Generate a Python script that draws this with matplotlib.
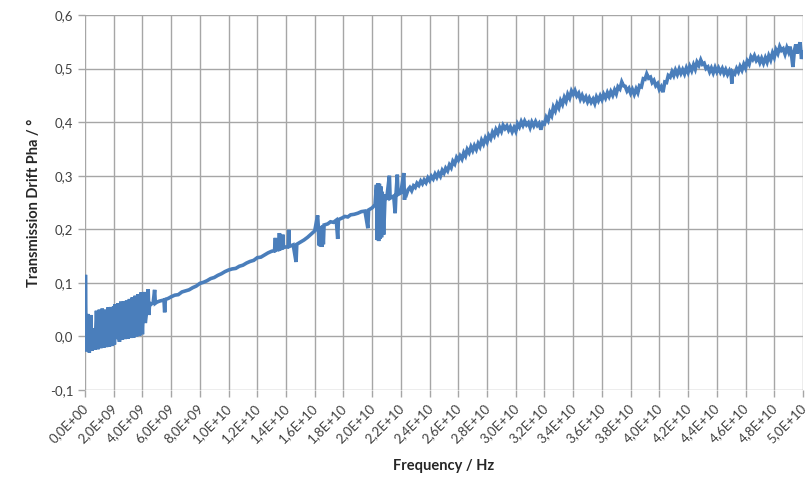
import matplotlib
matplotlib.use("Agg")
import matplotlib.pyplot as plt
import matplotlib.transforms as mtransforms
from matplotlib.ticker import FixedLocator, FuncFormatter
import numpy as np

# ---- data (frequency in GHz, phase drift in degrees) ----
band_freq = [0.00, 0.03, 0.06, 0.10, 0.2, 0.3, 0.4, 0.5, 0.6, 0.7, 0.8, 0.9, 1.0, 1.1, 1.2,
             1.3, 1.4, 1.5, 1.6, 1.7, 1.8, 1.9, 2.0, 2.05, 2.1, 2.2, 2.3, 2.4, 2.5, 2.6, 2.7,
             2.8, 2.9, 3.0, 3.1, 3.2, 3.3, 3.4, 3.5, 3.6, 3.7, 3.8, 3.9, 4.0, 4.1, 4.2, 4.3,
             4.4, 4.45, 4.5, 4.6, 4.75, 4.85, 4.9, 5.0, 5.2, 5.5, 5.55, 5.6, 5.8]
band_phase = [0.005, 0.115, 0.040, -0.028, 0.042, -0.030, 0.040, -0.027, 0.015, -0.025, 0.048,
              -0.024, 0.050, -0.022, 0.052, -0.021, 0.050, -0.020, 0.054, -0.019, 0.055, -0.018,
              0.056, -0.015, 0.060, -0.005, 0.062, -0.010, 0.065, -0.006, 0.066, -0.005, 0.067,
              -0.004, 0.070, -0.003, 0.073, -0.002, 0.076, 0.000, 0.079, 0.001, 0.082, 0.004,
              0.083, 0.025, 0.048, 0.088, 0.040, 0.062, 0.060, 0.063, 0.087, 0.062, 0.064,
              0.066, 0.068, 0.045, 0.069, 0.071]

mid_freq = [6.0, 6.25, 6.5, 6.75, 7.0, 7.25, 7.5, 7.75, 8.0, 8.25, 8.5, 8.75, 9.0, 9.25, 9.5,
            9.75, 10.0, 10.25, 10.5, 10.75, 11.0, 11.25, 11.5, 11.75, 12.0, 12.25, 12.5, 12.75,
            13.0, 13.2, 13.26, 13.3, 13.5, 13.54, 13.58, 13.75, 13.78, 13.82, 14.0, 14.15,
            14.19, 14.23, 14.5, 14.7, 14.75, 15.0, 15.25, 15.5, 15.75, 16.0, 16.2, 16.25,
            16.3, 16.35, 16.4, 16.45, 16.5, 16.55, 16.6, 16.65, 16.9, 17.1, 17.3, 17.5, 17.6,
            17.65, 17.9, 18.1, 18.3, 18.5, 18.75, 19.0, 19.25, 19.5, 19.7, 19.75, 20.0, 20.2,
            20.3, 20.35, 20.4, 20.45, 20.5, 20.55, 20.6, 20.65, 20.7, 20.8, 20.9, 21.0, 21.2,
            21.25, 21.5, 21.6, 21.65, 21.75, 21.8, 22.0, 22.2, 22.25]
mid_phase = [0.074, 0.077, 0.078, 0.083, 0.085, 0.087, 0.091, 0.094, 0.099, 0.101, 0.104,
             0.108, 0.110, 0.114, 0.117, 0.121, 0.124, 0.126, 0.127, 0.131, 0.133, 0.137,
             0.140, 0.142, 0.147, 0.148, 0.152, 0.156, 0.159, 0.160, 0.184, 0.161, 0.163,
             0.193, 0.163, 0.165, 0.190, 0.166, 0.167, 0.168, 0.199, 0.168, 0.171, 0.139,
             0.172, 0.176, 0.180, 0.185, 0.191, 0.197, 0.226, 0.205, 0.170, 0.204, 0.168,
             0.206, 0.167, 0.207, 0.172, 0.208, 0.210, 0.214, 0.213, 0.217, 0.182, 0.218,
             0.221, 0.224, 0.223, 0.227, 0.228, 0.230, 0.233, 0.234, 0.202, 0.236, 0.240,
             0.246, 0.283, 0.180, 0.286, 0.178, 0.285, 0.182, 0.280, 0.185, 0.270, 0.190,
             0.265, 0.255, 0.300, 0.258, 0.262, 0.230, 0.262, 0.302, 0.265, 0.268, 0.305,
             0.255]

high_freq = [22.3, 22.4, 22.5, 22.62, 22.75, 22.88, 23.0, 23.12, 23.25, 23.38, 23.5, 23.62,
             23.75, 23.88, 24.0, 24.12, 24.25, 24.38, 24.5, 24.62, 24.75, 24.88, 25.0, 25.12,
             25.25, 25.38, 25.5, 25.62, 25.75, 25.88, 26.0, 26.12, 26.25, 26.38, 26.5, 26.62,
             26.75, 26.88, 27.0, 27.12, 27.25, 27.38, 27.5, 27.62, 27.75, 27.88, 28.0, 28.12,
             28.25, 28.38, 28.5, 28.62, 28.75, 28.88, 29.0, 29.12, 29.25, 29.38, 29.5, 29.62,
             29.75, 29.88, 30.0, 30.12, 30.25, 30.38, 30.5, 30.62, 30.75, 30.88, 31.0, 31.12,
             31.25, 31.38, 31.5, 31.62, 31.75, 31.88, 32.0, 32.12, 32.25, 32.38, 32.5, 32.62,
             32.75, 32.88, 33.0, 33.12, 33.25, 33.38, 33.5, 33.62, 33.75, 33.88, 34.0, 34.12,
             34.25, 34.38, 34.5, 34.62, 34.75, 34.88, 35.0, 35.12, 35.25, 35.38, 35.5, 35.62,
             35.75, 35.88, 36.0, 36.12, 36.25, 36.38, 36.5, 36.62, 36.75, 36.88, 37.0, 37.12,
             37.25, 37.38, 37.5, 37.62, 37.75, 37.88, 38.0, 38.12, 38.25, 38.38, 38.5, 38.62,
             38.75, 38.88, 39.0, 39.12, 39.25, 39.38, 39.5, 39.62, 39.75, 39.88, 40.0, 40.12,
             40.25, 40.38, 40.5, 40.62, 40.75, 40.88, 41.0, 41.12, 41.25, 41.38, 41.5, 41.62,
             41.75, 41.88, 42.0, 42.12, 42.25, 42.38, 42.5, 42.62, 42.75, 42.88, 43.0, 43.12,
             43.25, 43.38, 43.5, 43.62, 43.75, 43.88, 44.0, 44.12, 44.25, 44.38, 44.5, 44.62,
             44.75, 44.88, 45.0, 45.05, 45.1, 45.25, 45.38, 45.5, 45.62, 45.75, 45.88, 46.0,
             46.12, 46.25, 46.38, 46.5, 46.62, 46.75, 46.88, 47.0, 47.12, 47.25, 47.38, 47.5,
             47.62, 47.75, 47.88, 48.0, 48.12, 48.25, 48.38, 48.5, 48.62, 48.75, 48.88, 49.0,
             49.1, 49.2, 49.3, 49.4, 49.5, 49.6, 49.7, 49.8, 49.9, 50.0]
high_phase = [0.270, 0.266, 0.274, 0.278, 0.272, 0.281, 0.278, 0.286, 0.282, 0.290, 0.285,
              0.292, 0.287, 0.296, 0.291, 0.299, 0.294, 0.303, 0.297, 0.305, 0.299, 0.310,
              0.305, 0.314, 0.309, 0.320, 0.315, 0.327, 0.322, 0.334, 0.329, 0.337, 0.331,
              0.343, 0.337, 0.349, 0.343, 0.354, 0.347, 0.356, 0.349, 0.360, 0.354, 0.366,
              0.359, 0.370, 0.363, 0.375, 0.369, 0.381, 0.375, 0.386, 0.379, 0.390, 0.383,
              0.394, 0.388, 0.393, 0.385, 0.391, 0.382, 0.390, 0.383, 0.397, 0.391, 0.401,
              0.394, 0.402, 0.395, 0.399, 0.390, 0.400, 0.393, 0.401, 0.394, 0.398, 0.386,
              0.399, 0.397, 0.409, 0.403, 0.418, 0.412, 0.428, 0.421, 0.434, 0.427, 0.440,
              0.433, 0.446, 0.439, 0.452, 0.445, 0.458, 0.452, 0.459, 0.449, 0.454, 0.443,
              0.450, 0.441, 0.447, 0.438, 0.445, 0.437, 0.443, 0.435, 0.447, 0.440, 0.449,
              0.442, 0.452, 0.445, 0.455, 0.448, 0.457, 0.450, 0.460, 0.453, 0.466, 0.462,
              0.475, 0.468, 0.467, 0.458, 0.463, 0.454, 0.461, 0.452, 0.462, 0.455, 0.468,
              0.466, 0.481, 0.480, 0.490, 0.482, 0.484, 0.474, 0.478, 0.468, 0.472, 0.461,
              0.466, 0.456, 0.475, 0.474, 0.487, 0.484, 0.494, 0.487, 0.497, 0.489, 0.499,
              0.491, 0.498, 0.490, 0.501, 0.493, 0.504, 0.496, 0.507, 0.499, 0.512, 0.506,
              0.516, 0.508, 0.510, 0.500, 0.503, 0.494, 0.501, 0.492, 0.502, 0.494, 0.501,
              0.493, 0.500, 0.491, 0.498, 0.489, 0.496, 0.488, 0.472, 0.494, 0.490, 0.500,
              0.494, 0.504, 0.497, 0.508, 0.501, 0.514, 0.508, 0.522, 0.517, 0.524, 0.515,
              0.520, 0.511, 0.519, 0.510, 0.520, 0.512, 0.524, 0.516, 0.529, 0.521, 0.535,
              0.528, 0.541, 0.534, 0.537, 0.527, 0.539, 0.531, 0.541, 0.526, 0.503, 0.533,
              0.545, 0.528, 0.540, 0.549, 0.518, 0.530]

x_ticks_ghz = list(range(0, 51, 2))
y_ticks = [-0.1, 0.0, 0.1, 0.2, 0.3, 0.4, 0.5, 0.6]

freq_hz = np.array(band_freq + mid_freq + high_freq) * 1e9
phase = np.array(band_phase + mid_phase + high_phase)

plt.rcParams['font.family'] = ['Lato', 'DejaVu Sans']

fig = plt.figure(figsize=(8.07, 4.80), dpi=100)
ax = fig.add_axes([0.1053, 0.1875, 0.8897, 0.78125])

ax.plot(freq_hz, phase, color='#4a7ebb', linewidth=2.6, solid_joinstyle='miter')

ax.set_xlim(0, 50e9)
ax.set_ylim(-0.1, 0.6)
ax.xaxis.set_major_locator(FixedLocator([t * 1e9 for t in x_ticks_ghz]))
ax.yaxis.set_major_locator(FixedLocator(y_ticks))


def xfmt(v, pos):
    if v == 0:
        return "0,0E+00"
    e = int(np.floor(np.log10(abs(v)) + 1e-9))
    m = v / 10 ** e
    return f"{m:.1f}".replace('.', ',') + f"E+{e:02d}"


def yfmt(v, pos):
    return f"{v:.1f}".replace('.', ',').replace('-0,0', '0,0')


ax.xaxis.set_major_formatter(FuncFormatter(xfmt))
ax.yaxis.set_major_formatter(FuncFormatter(yfmt))

ax.grid(True, color='#a6a6a6', linewidth=1.0)
ax.set_axisbelow(True)
for s in ax.spines.values():
    s.set_visible(False)
ax.tick_params(axis='both', colors='#a6a6a6', length=5, width=1.0,
               labelcolor='#404040', labelsize=9.5)
shift = mtransforms.ScaledTranslation(-3 / 100, 0, fig.dpi_scale_trans)
for lbl in ax.get_xticklabels():
    lbl.set_rotation(45)
    lbl.set_ha('right')
    lbl.set_rotation_mode('anchor')
    lbl.set_transform(lbl.get_transform() + shift)

ax.set_xlabel('Frequency / Hz', fontsize=10.5, fontweight='bold', color='#262626', labelpad=10)
ax.set_ylabel('Transmission Drift Pha / °', fontsize=10.5, fontweight='bold', color='#262626',
              labelpad=6)

fig.savefig('out.png', dpi=100)
